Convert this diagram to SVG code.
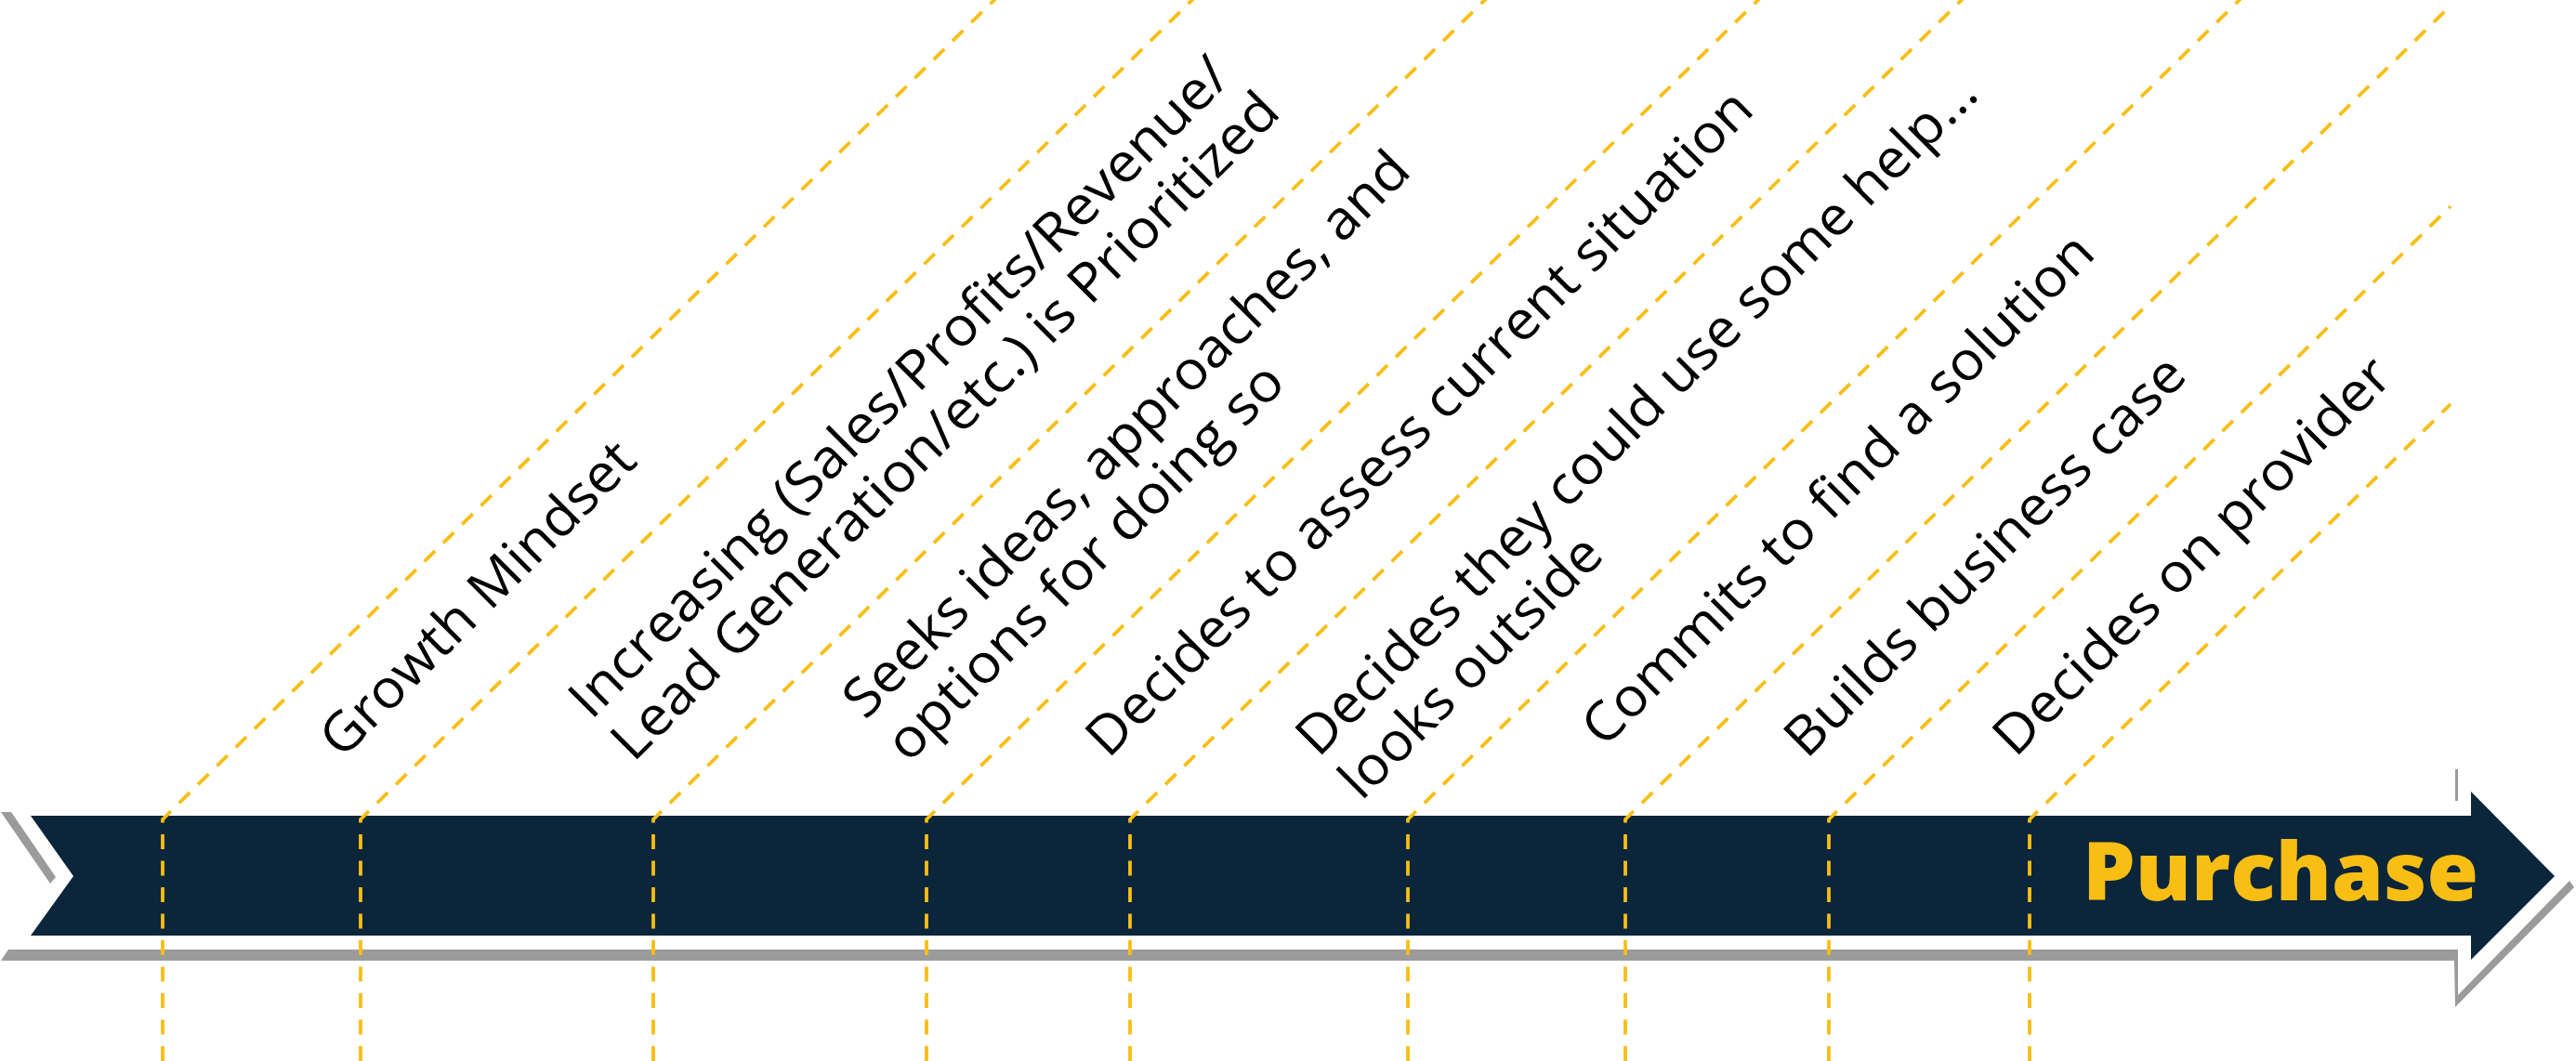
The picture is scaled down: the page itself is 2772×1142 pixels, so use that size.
<svg xmlns="http://www.w3.org/2000/svg" width="2772" height="1142" viewBox="0 0 2772 1142">
<style>
.lbl{font-family:"Open Sans","Liberation Sans",sans-serif;font-size:58px;fill:#000;}
.dash{fill:none;stroke:#F8BE14;stroke-width:3.8;stroke-dasharray:16 12.5;}
.gray{fill:#9B9B9B;}
</style>
<rect width="2772" height="1142" fill="#fff"/>
<g id="arrow">
<polygon class="gray" points="1,874 12,874 60,944 54,951"/>
<polygon class="gray" points="9,1022 2645,1022 2645,1071 2765,948 2770,955 2642,1084 2641,1034 1,1034"/>
<rect class="gray" x="2642" y="828" width="3" height="34"/>
<polygon fill="#0B253A" points="33,878 2659,878 2659,852 2749,943 2659,1033 2659,1007 33,1007 79,943"/>
<text x="2241" y="969" textLength="426" lengthAdjust="spacingAndGlyphs" style="font-family:'Open Sans','Liberation Sans',sans-serif;font-weight:800;font-size:87px;fill:#F8BE14;">Purchase</text>
</g>
<g id="connectors">
<path class="dash" d="M175,1142 V882 L1080,-10"/>
<path class="dash" d="M388,1142 V882 L1293,-10"/>
<path class="dash" d="M703,1142 V882 L1608,-10"/>
<path class="dash" d="M997,1142 V882 L1902,-10"/>
<path class="dash" d="M1216,1142 V882 L2121,-10"/>
<path class="dash" d="M1515,1142 V882 L2420,-10"/>
<path class="dash" d="M1749,1142 V882 L2637,6"/>
<path class="dash" d="M1968,1142 V882 L2637,222"/>
<path class="dash" d="M2184,1142 V882 L2637,435"/>
</g>
<g id="step1"><text class="lbl" transform="translate(368,818) rotate(-45)" textLength="452" lengthAdjust="spacingAndGlyphs">Growth Mindset</text></g>
<g id="step2">
<text class="lbl" transform="translate(636,776) rotate(-45)" textLength="977" lengthAdjust="spacingAndGlyphs">Increasing (Sales/Profits/Revenue/</text>
<text class="lbl" transform="translate(681.5,821.5) rotate(-45)" textLength="988" lengthAdjust="spacingAndGlyphs">Lead Generation/etc.) is Prioritized</text>
</g>
<g id="step3">
<text class="lbl" transform="translate(931,776) rotate(-45)" textLength="834" lengthAdjust="spacingAndGlyphs">Seeks ideas, approaches, and</text>
<text class="lbl" transform="translate(977.5,822.5) rotate(-45)" textLength="577" lengthAdjust="spacingAndGlyphs">options for doing so</text>
</g>
<g id="step4"><text class="lbl" transform="translate(1192.5,817.5) rotate(-45)" textLength="986" lengthAdjust="spacingAndGlyphs">Decides to assess current situation</text></g>
<g id="step5">
<text class="lbl" transform="translate(1418.5,816.5) rotate(-45)" textLength="1008" lengthAdjust="spacingAndGlyphs">Decides they could use some help...</text>
<text class="lbl" transform="translate(1465,863) rotate(-45)" textLength="372" lengthAdjust="spacingAndGlyphs">looks outside</text>
</g>
<g id="step6"><text class="lbl" transform="translate(1726,806) rotate(-45)" textLength="751" lengthAdjust="spacingAndGlyphs">Commits to find a solution</text></g>
<g id="step7"><text class="lbl" transform="translate(1944,818) rotate(-45)" textLength="582" lengthAdjust="spacingAndGlyphs">Builds business case</text></g>
<g id="step8"><text class="lbl" transform="translate(2168.5,816.5) rotate(-45)" textLength="578" lengthAdjust="spacingAndGlyphs">Decides on provider</text></g>
</svg>
